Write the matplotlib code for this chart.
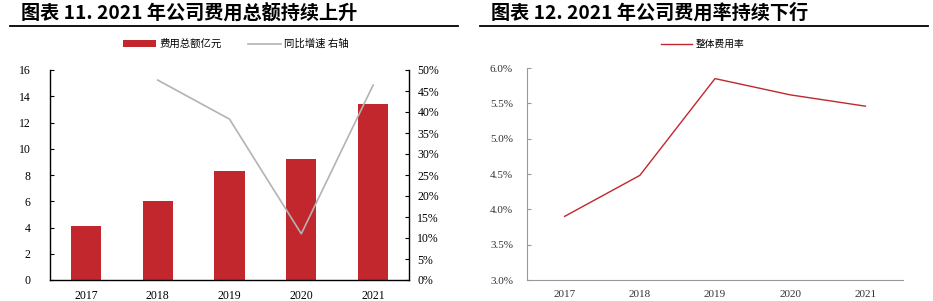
import numpy as np
import matplotlib.pyplot as plt
from matplotlib.ticker import FuncFormatter
from matplotlib.lines import Line2D

plt.rcParams['font.family'] = ['Liberation Serif', 'Noto Sans CJK SC']

# 数据
years = ['2017', '2018', '2019', '2020', '2021']
expense_total = [4.1, 6.0, 8.3, 9.2, 13.4]          # 亿元
expense_yoy = [np.nan, 47.6, 38.3, 11.0, 46.4]      # %
expense_rate = [3.90, 4.48, 5.85, 5.62, 5.46]       # %

title_left = '图表 11. 2021 年公司费用总额持续上升'
title_right = '图表 12. 2021 年公司费用率持续下行'

cjk = ['Noto Sans CJK SC', 'Liberation Serif']
red = '#c1272d'
grey = '#b3b3b3'

fig = plt.figure(figsize=(9.33, 3.01), dpi=100)
W, H = 933, 301

def box(x0, y0, x1, y1):
    return [x0 / W, 1 - y1 / H, (x1 - x0) / W, (y1 - y0) / H]

# 标题与下划线
fig.text(21 / W, 1 - 13 / H, title_left, family=cjk, fontweight='bold', fontsize=13.8, va='center')
fig.text(491 / W, 1 - 13 / H, title_right, family=cjk, fontweight='bold', fontsize=13.8, va='center')
fig.add_artist(Line2D([10 / W, 458 / W], [1 - 25.5 / H] * 2, color='black', lw=1.3))
fig.add_artist(Line2D([480 / W, 928 / W], [1 - 25.5 / H] * 2, color='black', lw=1.3))

# 左图: 柱状 + 折线
ax = fig.add_axes(box(50, 70, 409, 280))
x = np.arange(len(years))
ax.bar(x, expense_total, width=0.42, color=red, label='费用总额亿元')
ax.set_xlim(-0.5, 4.5)
ax.set_ylim(0, 16)
ax.set_yticks(range(0, 17, 2))
ax.set_xticks(x)
ax.set_xticklabels(years)
ax.tick_params(axis='x', length=0, labelsize=8.5, pad=7)
ax.tick_params(axis='y', direction='in', length=3, labelsize=8.5, pad=14)
for s in ['top', 'right']:
    ax.spines[s].set_visible(False)
for s in ['left', 'bottom']:
    ax.spines[s].set_linewidth(1.0)

ax2 = ax.twinx()
ax2.plot(x, expense_yoy, color=grey, lw=1.2, label='同比增速 右轴')
ax2.set_ylim(0, 50)
ax2.set_yticks(range(0, 51, 5))
ax2.yaxis.set_major_formatter(FuncFormatter(lambda v, p: f'{v:.0f}%'))
ax2.tick_params(axis='y', direction='in', length=3, labelsize=8.5, pad=6)
for s in ['top', 'left', 'bottom']:
    ax2.spines[s].set_visible(False)
ax2.spines['right'].set_linewidth(1.0)

h1, l1 = ax.get_legend_handles_labels()
h2, l2 = ax2.get_legend_handles_labels()
fig.legend(h1 + h2, l1 + l2, loc='center', bbox_to_anchor=(236 / W, 1 - 44 / H), ncol=2,
           frameon=False, prop={'family': cjk, 'size': 7.5}, handlelength=3.2,
           handleheight=0.6, columnspacing=2.5, handletextpad=0.3)

# 右图: 费用率折线
ax3 = fig.add_axes(box(527, 68, 903, 280))
ax3.plot(x, expense_rate, color=red, lw=1.0, label='整体费用率')
ax3.set_xlim(-0.5, 4.5)
ax3.set_ylim(3.0, 6.0)
ax3.set_yticks(np.arange(3.0, 6.01, 0.5))
ax3.yaxis.set_major_formatter(FuncFormatter(lambda v, p: f'{v:.1f}%'))
ax3.set_xticks(x)
ax3.set_xticklabels(years)
ax3.tick_params(axis='x', length=0, labelsize=8, pad=7, colors='#333333')
ax3.tick_params(axis='y', direction='in', length=3, labelsize=8, pad=10, colors='#333333', color='#999999')
for s in ['top', 'right']:
    ax3.spines[s].set_visible(False)
for s in ['left', 'bottom']:
    ax3.spines[s].set_color('#999999')
    ax3.spines[s].set_linewidth(0.8)
ax3.legend(loc='center', bbox_to_anchor=((703 - 527) / 376, 1 + (68 - 44) / 212), frameon=False,
           prop={'family': cjk, 'size': 7}, handlelength=3.2, handletextpad=0.4)

fig.savefig('out.png', dpi=100)
